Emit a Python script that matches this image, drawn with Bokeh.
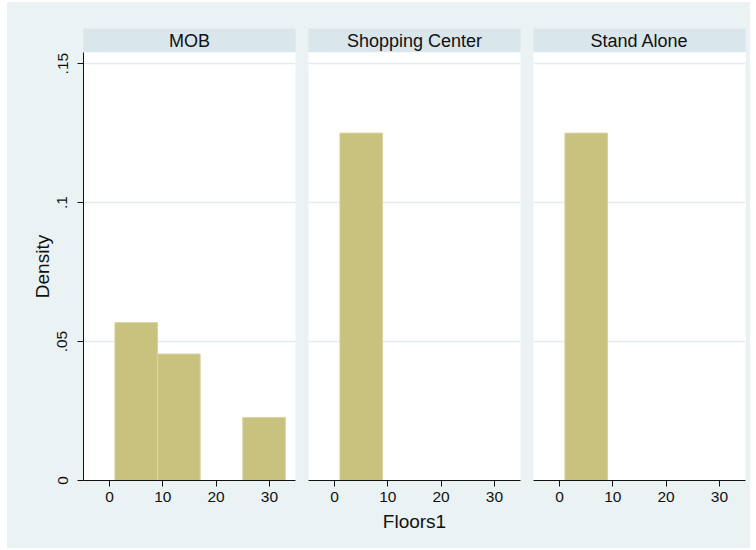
from bokeh.plotting import figure
from bokeh.layouts import row, column
from bokeh.models import Range1d, FixedTicker, Label, ColumnDataSource
from bokeh.embed import file_html
from bokeh.resources import INLINE

# ---- data ----
panels = ["MOB", "Shopping Center", "Stand Alone"]
bin_edges = [1, 9, 17, 25, 33]
density_mob = [0.0568, 0.0455, 0.0, 0.0227]
density_shopping = [0.125, 0.0, 0.0, 0.0]
density_stand = [0.125, 0.0, 0.0, 0.0]
x_ticks = [0, 10, 20, 30]
y_ticks = [0, 0.05, 0.10, 0.15]
y_tick_labels = ["0", ".05", ".1", ".15"]
x_title = "Floors1"
y_title = "Density"

# ---- styles ----
BG = "#EAF2F3"
HEADER = "#D9E6EB"
GRID = "#E3ECEF"
BAR = "#C9C27F"
BAR_EDGE = "#D8D3A2"
INK = "#111111"
FONT = "Liberation Sans"
FRAME_W, FRAME_H = 212, 428
HDR_TOP, HDR_H = 26, 24
BOTTOM = 68


def make_header(name, left, right):
    h = figure(width=left + FRAME_W + right, height=HDR_TOP + HDR_H,
               x_range=Range1d(0, 1), y_range=Range1d(0, 1),
               x_axis_location=None, y_axis_location=None, title=None,
               output_backend="svg", toolbar_location=None,
               min_border_left=left, min_border_right=right,
               min_border_top=HDR_TOP, min_border_bottom=0)
    h.grid.visible = False
    h.border_fill_color = BG
    h.background_fill_color = HEADER
    h.outline_line_color = None
    h.add_layout(Label(x=0.5, y=0.5, text=name, text_align="center",
                       text_baseline="middle", text_font=FONT,
                       text_font_size="18px", text_color=INK))
    return h


def make_panel(density, show_y, xlabel, left, right):
    p = figure(width=left + FRAME_W + right, height=FRAME_H + BOTTOM,
               x_range=Range1d(-4.9, 34.9), y_range=Range1d(0, 0.154),
               y_axis_location="left" if show_y else None, title=None,
               output_backend="svg", toolbar_location=None,
               min_border_left=left, min_border_right=right,
               min_border_top=0, min_border_bottom=BOTTOM)
    p.border_fill_color = BG
    p.background_fill_color = "white"
    p.outline_line_color = None
    p.xgrid.visible = False
    p.ygrid.ticker = FixedTicker(ticks=y_ticks)
    p.ygrid.grid_line_color = GRID
    p.ygrid.grid_line_width = 1.5

    # bars
    lefts, rights, tops = [], [], []
    for i, d in enumerate(density):
        if d > 0:
            lefts.append(bin_edges[i])
            rights.append(bin_edges[i + 1])
            tops.append(d)
    src = ColumnDataSource(dict(left=lefts, right=rights, top=tops))
    p.quad(left="left", right="right", bottom=0, top="top", source=src,
           fill_color=BAR, line_color=BAR_EDGE, line_width=1)

    # x axis
    ax = p.xaxis[0]
    ax.ticker = FixedTicker(ticks=x_ticks)
    ax.minor_tick_line_color = None
    ax.major_tick_out = 6
    ax.major_tick_in = 0
    ax.axis_line_color = INK
    ax.major_tick_line_color = INK
    ax.major_label_text_font = FONT
    ax.major_label_text_font_size = "15.5px"
    ax.major_label_text_color = INK
    ax.major_label_standoff = 5
    if xlabel:
        ax.axis_label = xlabel
        ax.axis_label_text_font = FONT
        ax.axis_label_text_font_size = "19px"
        ax.axis_label_text_font_style = "normal"
        ax.axis_label_text_color = INK
        ax.axis_label_standoff = 6

    if show_y:
        ay = p.yaxis[0]
        ay.ticker = FixedTicker(ticks=y_ticks)
        ay.major_label_overrides = {t: s for t, s in zip(y_ticks, y_tick_labels)}
        ay.minor_tick_line_color = None
        ay.major_tick_out = 6
        ay.major_tick_in = 0
        ay.axis_line_color = INK
        ay.major_tick_line_color = INK
        ay.major_label_orientation = "vertical"
        ay.major_label_text_font = FONT
        ay.major_label_text_font_size = "15.5px"
        ay.major_label_text_color = INK
        ay.major_label_standoff = 10
        ay.axis_label = y_title
        ay.axis_label_text_font = FONT
        ay.axis_label_text_font_size = "19px"
        ay.axis_label_text_font_style = "normal"
        ay.axis_label_text_color = INK
        ay.axis_label_standoff = 2
    return p


borders = [(76, 6), (7, 7), (6, 5)]
densities = [density_mob, density_shopping, density_stand]
headers = [make_header(n, l, r) for n, (l, r) in zip(panels, borders)]
plots = [make_panel(d, i == 0, x_title if i == 1 else None, l, r)
         for i, (d, (l, r)) in enumerate(zip(densities, borders))]

layout = column(row(*headers, spacing=0), row(*plots, spacing=0), spacing=0,
                styles={"margin-left": "7px", "margin-top": "2px",
                        "background-color": BG})
open("out.html", "w").write(file_html(layout, INLINE))
